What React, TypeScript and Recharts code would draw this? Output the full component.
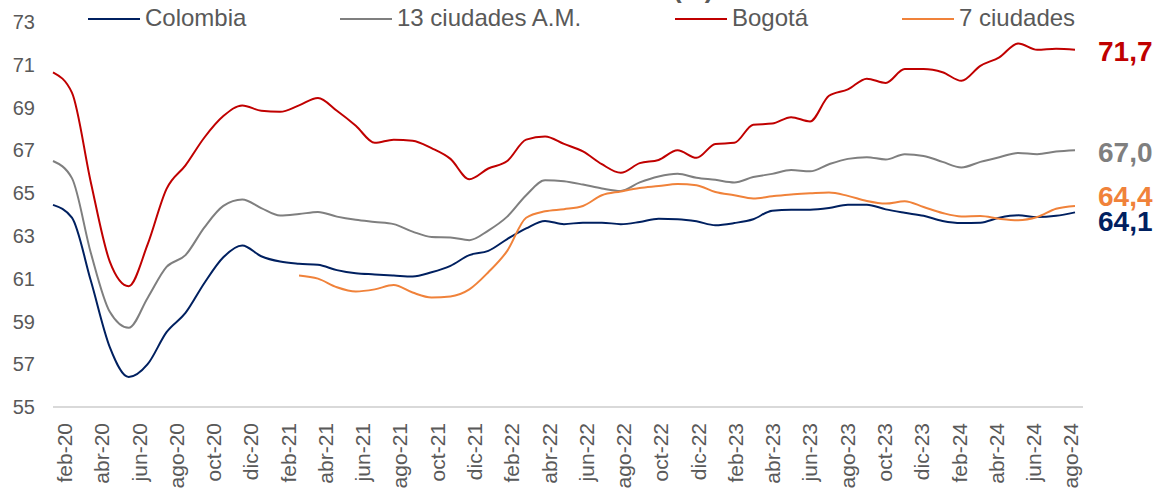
import { LineChart, Line, XAxis, YAxis, Legend } from "recharts";

const months = [
  "feb-20", "mar-20", "abr-20", "may-20", "jun-20", "jul-20", "ago-20", "sep-20", "oct-20", "nov-20", "dic-20",
  "ene-21", "feb-21", "mar-21", "abr-21", "may-21", "jun-21", "jul-21", "ago-21", "sep-21", "oct-21", "nov-21", "dic-21",
  "ene-22", "feb-22", "mar-22", "abr-22", "may-22", "jun-22", "jul-22", "ago-22", "sep-22", "oct-22", "nov-22", "dic-22",
  "ene-23", "feb-23", "mar-23", "abr-23", "may-23", "jun-23", "jul-23", "ago-23", "sep-23", "oct-23", "nov-23", "dic-23",
  "ene-24", "feb-24", "mar-24", "abr-24", "may-24", "jun-24", "jul-24", "ago-24",
];

const colombia = [
  64.45, 63.85, 60.9, 57.8, 56.4, 57.0, 58.5, 59.4, 60.8, 62.0, 62.55,
  62.05, 61.8, 61.7, 61.65, 61.4, 61.25, 61.2, 61.15, 61.1, 61.3, 61.6, 62.1,
  62.3, 62.85, 63.35, 63.7, 63.55, 63.62, 63.62, 63.55, 63.65, 63.8, 63.78, 63.68,
  63.5, 63.6, 63.78, 64.18, 64.22, 64.22, 64.3, 64.46, 64.46, 64.24, 64.08, 63.94,
  63.7, 63.6, 63.62, 63.85, 63.96, 63.88, 63.94, 64.1,
];

const ciudades13 = [
  66.5, 65.7, 62.2, 59.45, 58.7, 60.1, 61.55, 62.1, 63.4, 64.4, 64.7,
  64.3, 63.95, 64.02, 64.12, 63.9, 63.75, 63.65, 63.55, 63.2, 62.95, 62.93, 62.8,
  63.25, 63.9, 64.9, 65.6, 65.55, 65.4, 65.22, 65.1, 65.5, 65.78, 65.9, 65.72,
  65.62, 65.5, 65.75, 65.9, 66.08, 66.02, 66.35, 66.6, 66.68, 66.57, 66.82, 66.74,
  66.46, 66.2, 66.46, 66.68, 66.88, 66.82, 66.94, 67.0,
];

const bogota = [
  70.65, 69.7, 65.5, 61.8, 60.65, 62.6, 65.2, 66.3, 67.6, 68.6, 69.1,
  68.85, 68.8, 69.1, 69.45, 68.85, 68.15, 67.35, 67.5, 67.45, 67.1, 66.6, 65.65,
  66.15, 66.5, 67.5, 67.65, 67.3, 66.95, 66.35, 65.95, 66.4, 66.55, 67.0, 66.65,
  67.3, 67.35, 68.2, 68.25, 68.55, 68.35, 69.55, 69.85, 70.35, 70.15, 70.8, 70.8,
  70.65, 70.25, 70.95, 71.35, 72.0, 71.7, 71.75, 71.7,
];

const ciudades7 = [
  null, null, null, null, null, null, null, null, null, null, null,
  null, null, 61.15, 61.0, 60.6, 60.4, 60.5, 60.7, 60.35, 60.12, 60.17, 60.5,
  61.3, 62.3, 63.85, 64.15, 64.25, 64.4, 64.9, 65.08, 65.24, 65.33, 65.43, 65.37,
  65.05, 64.9, 64.75, 64.85, 64.94, 64.99, 65.03, 64.87, 64.63, 64.51, 64.62, 64.35,
  64.07, 63.91, 63.93, 63.8, 63.73, 63.88, 64.27, 64.4,
];

const yTicks = [55, 57, 59, 61, 63, 65, 67, 69, 71, 73];

const series = [
  { key: "colombia", name: "Colombia", color: "#002060", labelDy: 9 },
  { key: "ciudades13", name: "13 ciudades A.M.", color: "#7F7F7F", labelDy: 2 },
  { key: "bogota", name: "Bogotá", color: "#C00000", labelDy: 2 },
  { key: "ciudades7", name: "7 ciudades", color: "#F0823A", labelDy: -9 },
];

const data = months.map((m, i) => ({
  month: m,
  colombia: colombia[i],
  ciudades13: ciudades13[i],
  bogota: bogota[i],
  ciudades7: ciudades7[i],
}));

const legendLeft = [88, 340, 675, 902];
const textColor = "#595959";

function renderLegend() {
  return (
    <div style={{ position: "relative", width: 1157, height: 36 }}>
      <span
        style={{
          position: "absolute", left: 673, top: -24, fontSize: 26, lineHeight: "26px",
          fontWeight: "bold", color: textColor,
        }}
      >
        (%)
      </span>
      {series.map((s, i) => (
        <div
          key={s.key}
          style={{
            position: "absolute", left: legendLeft[i], top: 0, height: 36,
            display: "flex", alignItems: "center", whiteSpace: "nowrap",
          }}
        >
          <span style={{ width: 52, height: 2, background: s.color, marginRight: 5, marginTop: 2 }} />
          <span style={{ fontSize: 24, color: textColor }}>{s.name}</span>
        </div>
      ))}
    </div>
  );
}

function MonthTick({ x, y, payload }: any) {
  const i = months.indexOf(payload.value);
  // labels sit slightly right of their point at the start, drifting left toward the end
  const bx = x + 19 - 0.29 * i;
  return (
    <text
      transform={`translate(${bx},${y + 16}) rotate(-90)`}
      textAnchor="end"
      fill={textColor}
      fontSize={21}
    >
      {payload.value}
    </text>
  );
}

function endLabel(color: string, dy: number) {
  return (props: any) => {
    const { x, y, index, value } = props;
    if (index !== months.length - 1 || value == null) return null;
    return (
      <text
        x={x + 23}
        y={y + dy}
        fill={color}
        fontSize={28}
        fontWeight="bold"
        dominantBaseline="central"
      >
        {Number(value).toFixed(1).replace(".", ",")}
      </text>
    );
  };
}

export default function App() {
  return (
    <div style={{ fontFamily: "'Liberation Sans', Arial, sans-serif", background: "#fff", width: 1157, height: 494 }}>
      <style>{`body { margin: 0; }`}</style>
      <LineChart
        width={1157}
        height={494}
        data={data}
        margin={{ top: 22, right: 74, bottom: 0, left: 0 }}
      >
        <XAxis
          dataKey="month"
          interval={1}
          height={87}
          padding={{ left: 0, right: 8 }}
          axisLine={{ stroke: "#D9D9D9", strokeWidth: 2 }}
          tickLine={false}
          tickSize={0}
          tickMargin={0}
          tick={<MonthTick />}
        />
        <YAxis
          domain={[55, 73]}
          ticks={yTicks}
          width={53}
          axisLine={false}
          tickLine={false}
          tickSize={0}
          tickMargin={18}
          tick={{ fill: textColor, fontSize: 20 }}
        />
        <Legend
          layout="vertical"
          align="center"
          verticalAlign="middle"
          content={renderLegend}
          wrapperStyle={{ top: 0, left: 0, width: 1157, height: 36 }}
        />
        {series.map((s) => (
          <Line
            key={s.key}
            type="monotone"
            dataKey={s.key}
            name={s.name}
            stroke={s.color}
            strokeWidth={2}
            dot={false}
            activeDot={false}
            isAnimationActive={false}
            label={endLabel(s.color, s.labelDy)}
          />
        ))}
      </LineChart>
    </div>
  );
}
